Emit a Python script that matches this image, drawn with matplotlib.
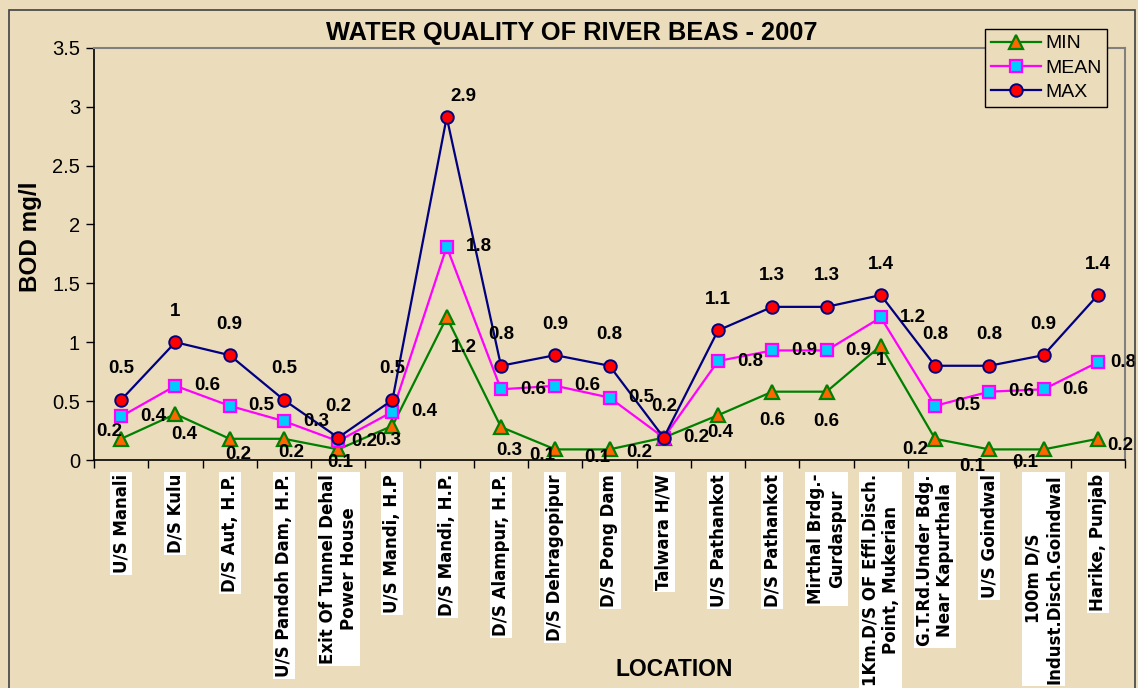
import matplotlib
matplotlib.use("Agg")
import matplotlib.pyplot as plt
from matplotlib.patches import Rectangle
from matplotlib.ticker import FixedLocator, NullFormatter

plt.rcParams['font.family'] = ['Liberation Sans', 'DejaVu Sans']

locations = [
    "U/S Manali", "D/S Kulu", "D/S Aut, H.P.", "U/S Pandoh Dam, H.P.",
    "Exit Of Tunnel Dehal\nPower House", "U/S Mandi, H.P", "D/S Mandi, H.P.",
    "D/S Alampur, H.P.", "D/S Dehragopipur", "D/S Pong Dam", "Talwara H/W",
    "U/S Pathankot", "D/S Pathankot", "Mirthal Brdg.-\nGurdaspur",
    "1Km.D/S OF Effl.Disch.\nPoint, Mukerian", "G.T.Rd.Under Bdg.\nNear Kapurthala",
    "U/S Goindwal", "100m D/S\nIndust.Disch.Goindwal", "Harike, Punjab",
]
bod_min = [0.18, 0.39, 0.18, 0.18, 0.09, 0.29, 1.21, 0.28, 0.09, 0.09, 0.19,
           0.38, 0.58, 0.58, 0.97, 0.18, 0.09, 0.09, 0.18]
bod_mean = [0.37, 0.63, 0.46, 0.33, 0.16, 0.41, 1.81, 0.60, 0.63, 0.53, 0.19,
            0.84, 0.93, 0.93, 1.21, 0.46, 0.58, 0.60, 0.83]
bod_max = [0.51, 1.00, 0.89, 0.51, 0.19, 0.51, 2.91, 0.80, 0.89, 0.80, 0.19,
           1.10, 1.30, 1.30, 1.40, 0.80, 0.80, 0.89, 1.40]
yticks = [0, 0.5, 1, 1.5, 2, 2.5, 3, 3.5]
ytick_labels = ["0", "0.5", "1", "1.5", "2", "2.5", "3", "3.5"]

# layout: data-label offsets in pixels (label placement, as in the original)
min_label_offsets = [(-12, 7), (9, -20), (9, -16), (7, -14), (2, -13), (-4, -15),
                     (17, -30), (8, -23), (-13, -6), (-12, -8), (-25, -15),
                     (2, -17), (0, -29), (0, -30), (0, -15), (-20, -11),
                     (-17, -17), (-18, -13), (22, -7)]
max_label_offset = (0, 31)
max_label_special = {6: (17, 21)}
mean_label_offset = (32, 0)
mean_label_special = {4: (26, 0), 18: (25, 0)}

W, H = 1138, 688
BG = "#EBDCBB"
fig = plt.figure(figsize=(W / 100, H / 100), dpi=100, facecolor=BG)

fig.add_artist(Rectangle((9 / W, -0.02), (1135 - 9) / W, (688 - 10) / H + 0.02,
                         transform=fig.transFigure, fill=False,
                         edgecolor="#404040", linewidth=1.2))

ax = fig.add_axes([94 / W, 1 - 460 / H, (1125 - 94) / W, (460 - 47.7) / H])
ax.set_facecolor(BG)

x = list(range(len(locations)))
ax.plot(x, bod_min, color="#008000", lw=1.6, marker="^", ms=10.5,
        mfc="#FF6600", mec="#008000", mew=1.6, label="MIN", zorder=3)
ax.plot(x, bod_mean, color="#FF00FF", lw=1.6, marker="s", ms=9,
        mfc="#00CCFF", mec="#FF00FF", mew=1.6, label="MEAN", zorder=4)
ax.plot(x, bod_max, color="#000080", lw=1.6, marker="o", ms=9,
        mfc="#FF0000", mec="#000080", mew=1.4, label="MAX", zorder=5)

def fmt(v):
    return f"{round(v, 1):g}"

lab_kw = dict(textcoords="offset pixels", fontsize=13.5, fontweight="bold",
              ha="center", va="center", zorder=6, annotation_clip=False)
for i in x:
    ax.annotate(fmt(bod_max[i]), (i, bod_max[i]),
                xytext=max_label_special.get(i, max_label_offset), **lab_kw)
    ax.annotate(fmt(bod_mean[i]), (i, bod_mean[i]),
                xytext=mean_label_special.get(i, mean_label_offset), **lab_kw)
    ax.annotate(fmt(bod_min[i]), (i, bod_min[i]),
                xytext=min_label_offsets[i], **lab_kw)

ax.set_xlim(-0.5, len(locations) - 0.5)
ax.set_ylim(0, 3.5)
ax.set_yticks(yticks)
ax.set_yticklabels(ytick_labels, fontsize=14.5)
ax.tick_params(axis="y", direction="out", length=6, width=1, pad=4)

ax.set_xticks(x)
ax.set_xticklabels(locations, rotation=90, fontsize=12, fontweight="bold",
                   ha="center", va="top", multialignment="center",
                   family=["DejaVu Sans"])
for t in ax.get_xticklabels():
    t.set_bbox(dict(facecolor="white", edgecolor="none", pad=1.5))
ax.tick_params(axis="x", which="major", length=0, pad=10)
ax.xaxis.set_minor_locator(FixedLocator([i + 0.5 for i in range(-1, len(locations))]))
ax.xaxis.set_minor_formatter(NullFormatter())
ax.tick_params(axis="x", which="minor", direction="out", length=6, width=1)

for s in ["left", "bottom"]:
    ax.spines[s].set_color("black")
    ax.spines[s].set_linewidth(1.2)
for s in ["top", "right"]:
    ax.spines[s].set_color("#808080")
    ax.spines[s].set_linewidth(1.5)

fig.text(572 / W, 1 - 33 / H, "WATER QUALITY OF RIVER BEAS - 2007",
         ha="center", va="center", fontsize=18.3, fontweight="bold")
fig.text(31 / W, 1 - 237 / H, "BOD mg/l", rotation=90, ha="center", va="center",
         fontsize=17.5, fontweight="bold")
fig.text(674 / W, 1 - 669 / H, "LOCATION", ha="center", va="center",
         fontsize=16.5, fontweight="bold")

leg = ax.legend(loc="upper left", bbox_to_anchor=(985 / W, 1 - 29 / H),
                bbox_transform=fig.transFigure, fontsize=14, frameon=True,
                fancybox=False, edgecolor="black", facecolor=BG, framealpha=1,
                handlelength=2.6, borderpad=0.3, labelspacing=0.35,
                handletextpad=0.2, borderaxespad=0)
leg.get_frame().set_linewidth(1.0)
leg.set_zorder(10)

fig.savefig("out.png", dpi=100, facecolor=BG)
